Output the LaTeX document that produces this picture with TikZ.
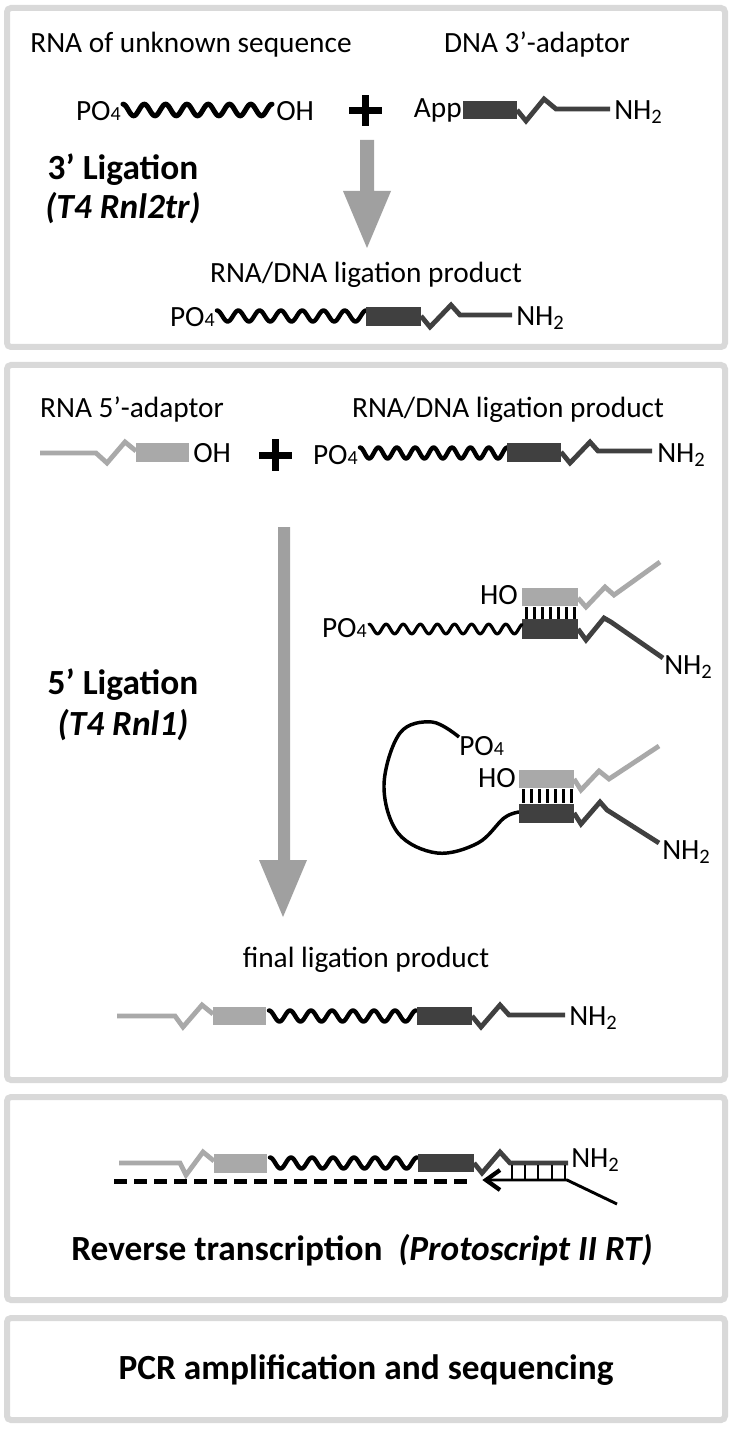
\documentclass[tikz,border=0pt]{standalone}
\usepackage{fontspec}
\setmainfont{Carlito}
\definecolor{dk}{HTML}{404040}
\definecolor{lt}{HTML}{A9A9A9}
\definecolor{ag}{HTML}{A0A0A0}
\definecolor{pg}{HTML}{D9D9D9}
\newcommand\dnawave[6]{\draw[line width=#5, line cap=round, line join=round] plot[domain=#1:#2, samples=160, smooth] (\x,{#3-#6*cos(((\x-(#1))/#4)*360)});}
\newcommand\pofour{PO{\fontsize{15}{15}\selectfont 4}}
\newcommand\nhtwo{NH\textsubscript{2}}
\begin{document}
\begin{tikzpicture}[x=0.75pt,y=-0.75pt,
 lbl/.style={font=\fontsize{22}{24}\selectfont, inner sep=0pt},
 ttl/.style={font=\bfseries\fontsize{26.5}{30}\selectfont, inner sep=0pt},
 panel/.style={draw=pg, line width=4.5pt, rounded corners=3pt},
 dkl/.style={draw=dk, line width=3.6pt},
 ltl/.style={draw=lt, line width=3.6pt},
 tick/.style={line width=2.2pt}]
\useasboundingbox (0,0) rectangle (733,1433);
\fill[white] (0,0) rectangle (733,1433);
% panels
\draw[panel] (7,8) rectangle (725,347);
\draw[panel] (7,365) rectangle (725,1080);
\draw[panel] (7,1097) rectangle (725,1300);
\draw[panel] (7,1318) rectangle (725,1420);

% ---------- panel 1
\node[lbl] (rnaunk) at (191,45) {RNA of unknown sequence};
\node[lbl] (dnathree) at (537,45) {DNA 3’-adaptor};
\node[lbl,anchor=east] (poa) at (121,111) {\pofour};
\dnawave{123}{272}{110}{21.3}{3.8pt}{5.8}
\node[lbl,anchor=west] (oha) at (276,111) {OH};
\fill (349,107) rectangle (382,114);
\fill (362,95) rectangle (369,126);
\node[lbl,anchor=east] (app) at (462,110) {App};
\fill[dk] (463,101) rectangle (517,119);
\draw[dkl] (517,110) -- (526,121) -- (544,99) -- (556,109) -- (610,109);
\node[lbl,anchor=west] (nha) at (614,112) {\nhtwo};
\fill[ag] (360,140) -- (374,140) -- (374,191) -- (391,191) -- (367,248) -- (343,191) -- (360,191) -- cycle;
\node[ttl] (ligthree) at (123,170) {3’ Ligation};
\node[ttl] (tfoura) at (123,208) {\itshape (T4 Rnl2tr)};
\node[lbl] (proda) at (366,275) {RNA/DNA ligation product};
\node[lbl,anchor=east] (pob) at (215,317) {\pofour};
\dnawave{217}{366}{316}{21.3}{3.3pt}{5.5}
\fill[dk] (366,307) rectangle (421,326);
\draw[dkl] (421,316) -- (430,327) -- (451,305) -- (460,315) -- (512,315);
\node[lbl,anchor=west] (nhb) at (516,318) {\nhtwo};

% ---------- panel 2
\node[lbl] (rnafive) at (132,410) {RNA 5’-adaptor};
\node[lbl] (prodb) at (508,410) {RNA/DNA ligation product};
\draw[ltl] (40,453) -- (96,453) -- (107,463) -- (125,442) -- (136,451);
\fill[lt] (136,443) rectangle (189,462);
\node[lbl,anchor=west] (ohb) at (193,453) {OH};
\fill (259,452) rectangle (292,459);
\fill (272,439) rectangle (279,471);
\node[lbl,anchor=east] (poc) at (358,455) {\pofour};
\dnawave{360}{507}{453}{18.4}{3.3pt}{5.5}
\fill[dk] (507,443) rectangle (561,462);
\draw[dkl] (561,452) -- (570,463) -- (590,442) -- (598,451) -- (652,451);
\node[lbl,anchor=west] (nhc) at (657,455) {\nhtwo};
\fill[ag] (278,527) -- (290,527) -- (290,860) -- (307,860) -- (283,917) -- (259,860) -- (278,860) -- cycle;
\node[ttl] (ligfive) at (123,685) {5’ Ligation};
\node[ttl] (tfourb) at (123,725) {\itshape (T4 Rnl1)};

% duplex 1
\node[lbl,anchor=east] (hoa) at (518,595) {HO};
\fill[lt] (522,588) rectangle (578,606);
\foreach \i in {0,...,6} \fill (525+\i*8,607) rectangle ++(3,12);
\fill[dk] (522,619) rectangle (578,639);
\draw[ltl] (578,598) -- (586,607) -- (605,587) -- (614,595) -- (660,562);
\draw[dkl] (578,629) -- (586,640) -- (604,618) -- (611,622) -- (663,658);
\node[lbl,anchor=east] (pod) at (367,628) {\pofour};
\dnawave{369}{522}{629}{17.1}{2.4pt}{4.8}
\node[lbl,anchor=west] (nhd) at (664,667) {\nhtwo};

% duplex 2
\draw[line width=2.6pt] plot[smooth,tension=0.6] coordinates {(459,737) (432,722) (400,733) (384,785) (398,833) (437,853) (478,843) (504,818) (519,812)};
\node[lbl,anchor=west] (poe) at (459,746) {\pofour};
\node[lbl,anchor=east] (hob) at (516,778) {HO};
\fill[lt] (519,770) rectangle (574,788);
\foreach \i in {0,...,6} \fill (522+\i*8,789) rectangle ++(3,14);
\fill[dk] (519,804) rectangle (574,823);
\draw[ltl] (574,779) -- (581,790) -- (599,771) -- (609,779) -- (659,746);
\draw[dkl] (574,813) -- (581,824) -- (600,802) -- (607,810) -- (659,843);
\node[lbl,anchor=west] (nhe) at (662,852) {\nhtwo};

% final product
\node[lbl] (final) at (366,960) {final ligation product};
\draw[ltl] (117,1016) -- (175,1016) -- (183,1027) -- (202,1005) -- (213,1014);
\fill[lt] (213,1007) rectangle (266,1025);
\dnawave{269}{416}{1016}{21}{3.3pt}{5.5}
\fill[dk] (417,1007) rectangle (472,1025);
\draw[dkl] (472,1016) -- (481,1027) -- (500,1005) -- (509,1015) -- (565,1015);
\node[lbl,anchor=west] (nhf) at (569,1018) {\nhtwo};

% ---------- panel 3
\draw[ltl] (119,1163) -- (180,1163) -- (186,1175) -- (203,1152) -- (214,1161);
\fill[lt] (214,1154) rectangle (267,1173);
\dnawave{270}{417}{1163}{21}{3.3pt}{5.5}
\fill[dk] (418,1154) rectangle (474,1172);
\draw[dkl] (474,1163) -- (482,1173) -- (500,1152) -- (510,1163) -- (568,1163);
\node[lbl,anchor=west] (nhg) at (571,1160) {\nhtwo};
\foreach \xx in {512,525,538,552,565} \draw[tick] (\xx,1165) -- (\xx,1180);
\draw[tick] (486,1180) -- (567,1180) -- (617,1204);
\draw[line width=3.2pt, line join=miter] (500,1170) -- (486,1180) -- (500,1190);
\draw[line width=3.75pt, dash pattern=on 9.75pt off 5.25pt] (114,1181) -- (473,1181);
\node[ttl] (rt) at (362,1250) {Reverse transcription\hspace{0.45em}{\itshape (Protoscript II RT)}};

% ---------- panel 4
\node[ttl] (pcr) at (366,1370) {PCR amplification and sequencing};
\end{tikzpicture}
\end{document}
